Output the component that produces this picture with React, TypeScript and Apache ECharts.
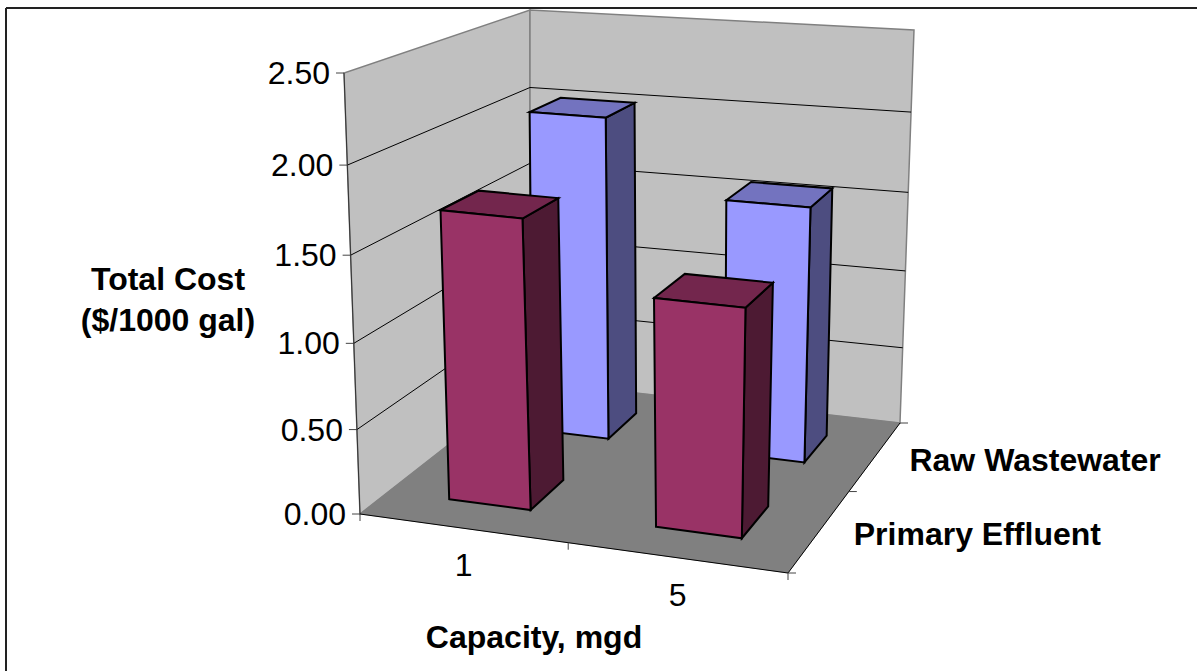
import React, { useEffect, useRef } from "react";
import * as echarts from "echarts";

const categories = ["1", "5"];
const depthCategories = ["Primary Effluent", "Raw Wastewater"];
const primaryEffluent = [1.7, 1.33];
const rawWastewater = [2.02, 1.58];
const valueTicks = [0, 0.5, 1, 1.5, 2, 2.5];

// Corners of the drawn box: front-left, front-right, back-right, back-left
const floorQuad = [[360, 514], [788, 573], [900, 423], [530, 381]];
const ceilingQuad = [[344, 73], [805, 117], [914, 30], [530, 10]];
const BAR_WIDTH = 0.2;
const BAR_DEPTH = 0.2;
const SANS = '"Liberation Sans", Arial, sans-serif';

function homography(q: number[][]) {
  const [[x0, y0], [x1, y1], [x2, y2], [x3, y3]] = q;
  const sx = x0 - x1 + x2 - x3, sy = y0 - y1 + y2 - y3;
  const dx1 = x1 - x2, dx2 = x3 - x2, dy1 = y1 - y2, dy2 = y3 - y2;
  const den = dx1 * dy2 - dx2 * dy1;
  const g = (sx * dy2 - dx2 * sy) / den, h = (dx1 * sy - sx * dy1) / den;
  const a = x1 - x0 + g * x1, b = x3 - x0 + h * x3, d = y1 - y0 + g * y1, e = y3 - y0 + h * y3;
  return (u: number, v: number) => {
    const w = g * u + h * v + 1;
    return [(a * u + b * v + x0) / w, (d * u + e * v + y0) / w];
  };
}
const floorAt = homography(floorQuad);
const ceilingAt = homography(ceilingQuad);
function project(u: number, v: number, t: number) {
  const k = (t * 0.947) / (1 - 0.053 * t);
  const f = floorAt(u + 0.012 * u * (1 - u), v);
  const c = ceilingAt(u + 0.07 * u * (1 - u), v);
  return [f[0] + (c[0] - f[0]) * k, f[1] + (c[1] - f[1]) * k];
}

function heightOf(params: any, api: any, value: number) {
  const cs = params.coordSys;
  return 1 - (api.coord([0, value])[1] - cs.y) / cs.height;
}

const poly = (points: number[][], fill: string, stroke: string, lineWidth: number) => ({
  type: "polygon", shape: { points }, style: { fill, stroke, lineWidth },
});
const seg = (a: number[], b: number[], stroke: string, lineWidth = 1) => ({
  type: "line", shape: { x1: a[0], y1: a[1], x2: b[0], y2: b[1] }, style: { stroke, lineWidth, fill: "none" },
});
const label = (text: string, x: number, y: number, size: number, bold: boolean, align: string) => ({
  type: "text",
  style: { text, x, y, fill: "#000", font: `${bold ? "bold " : ""}${size}px ${SANS}`, textAlign: align, textVerticalAlign: "middle" },
});

function renderScene(params: any, api: any) {
  const children: any[] = [];
  const wall = "#C0C0C0", edge = "#808080";
  children.push(poly([project(0, 0, 0), project(0, 1, 0), project(0, 1, 1), project(0, 0, 1)], wall, edge, 1.5));
  children.push(poly([project(0, 1, 0), project(1, 1, 0), project(1, 1, 1), project(0, 1, 1)], wall, edge, 1.5));
  children.push(poly([project(0, 0, 0), project(1, 0, 0), project(1, 1, 0), project(0, 1, 0)], "#808080", "#808080", 0.5));
  valueTicks.forEach((tick) => {
    const t = heightOf(params, api, tick);
    const a = project(0, 0, t);
    if (tick > 0 && tick < valueTicks[valueTicks.length - 1]) {
      children.push(seg(a, project(0, 1, t), "#000"));
      children.push(seg(project(0, 1, t), project(1, 1, t), "#000"));
    }
    children.push(seg([a[0] - 8, a[1]], a, "#444"));
    children.push(label(tick.toFixed(2), a[0] - 14, a[1], 32, false, "right"));
  });
  children.push(seg(project(0, 0, 0), project(0, 0, 1), "#333"));
  children.push(seg(project(0, 0, 0), project(1, 0, 0), "#000"));
  children.push(seg(project(1, 0, 0), project(1, 1, 0), "#000"));
  [0, 0.5, 1].forEach((u) => {
    const p = project(u, 0, 0);
    children.push(seg(p, [p[0], p[1] + 7], "#444"));
  });
  [0, 0.5, 1].forEach((v) => {
    const p = project(1, v, 0);
    children.push(seg(p, [p[0] + 8, p[1]], "#444"));
  });
  categories.forEach((c, i) => {
    const p = project((i + 0.5) / 2, 0, 0);
    children.push(label(c, p[0] + 1, p[1] + 37, 32, false, "center"));
  });
  depthCategories.forEach((c, j) => {
    const p = project(1, (j + 0.5) / 2, 0);
    children.push(label(c, p[0] + 34, p[1] + 4, 32, true, "left"));
  });
  children.push(label("Total Cost", 168, 279, 32, true, "center"));
  children.push(label("($/1000 gal)", 168, 320, 32, true, "center"));
  children.push(label("Capacity, mgd", 534, 637, 32, true, "center"));
  return { type: "group", children };
}

function barRenderer(depthIndex: number, front: string, side: string, top: string) {
  return (params: any, api: any) => {
    const cs = params.coordSys;
    const centre = api.coord([api.value(0), 0]);
    const u0 = (centre[0] - cs.x) / cs.width;
    const halfU = ((api.size([1, 0])[0] / cs.width) * BAR_WIDTH * 2) / 2;
    const v0 = (depthIndex + 0.5) / depthCategories.length;
    const halfV = BAR_DEPTH / 2;
    const t = heightOf(params, api, api.value(1));
    const P = (a: number, b: number, h: number) => project(u0 + a * halfU, v0 + b * halfV, h);
    return {
      type: "group",
      children: [
        poly([P(1, -1, 0), P(1, 1, 0), P(1, 1, t), P(1, -1, t)], side, "#000", 2),
        poly([P(-1, -1, t), P(1, -1, t), P(1, 1, t), P(-1, 1, t)], top, "#000", 2),
        poly([P(-1, -1, 0), P(1, -1, 0), P(1, -1, t), P(-1, -1, t)], front, "#000", 2),
      ],
    };
  };
}

export default function App() {
  const ref = useRef<HTMLDivElement>(null);
  useEffect(() => {
    document.body.style.margin = "0";
    const chart = echarts.init(ref.current!, undefined, { renderer: "svg" });
    chart.setOption({
      animation: false,
      backgroundColor: "#fff",
      grid: { left: 0, right: 0, top: 0, bottom: 0 },
      xAxis: { type: "category", data: categories, show: false },
      yAxis: { type: "value", min: 0, max: 2.5, interval: 0.5, show: false },
      graphic: [
        { type: "line", shape: { x1: 6, y1: 8, x2: 1197, y2: 8 }, style: { stroke: "#222", lineWidth: 2 } },
        { type: "line", shape: { x1: 6, y1: 8, x2: 6, y2: 671 }, style: { stroke: "#222", lineWidth: 2 } },
      ],
      series: [
        { type: "custom", clip: false, data: [[0, 0]], renderItem: renderScene, z: 1, silent: true },
        { type: "custom", clip: false, name: depthCategories[1], data: rawWastewater.map((v, i) => [i, v]), encode: { x: 0, y: 1 }, renderItem: barRenderer(1, "#9999FF", "#4D4D80", "#7373BF"), z: 2 },
        { type: "custom", clip: false, name: depthCategories[0], data: primaryEffluent.map((v, i) => [i, v]), encode: { x: 0, y: 1 }, renderItem: barRenderer(0, "#993366", "#4D1A33", "#73264D"), z: 3 },
      ],
    });
    return () => chart.dispose();
  }, []);
  return <div ref={ref} style={{ width: 1197, height: 671 }} />;
}
